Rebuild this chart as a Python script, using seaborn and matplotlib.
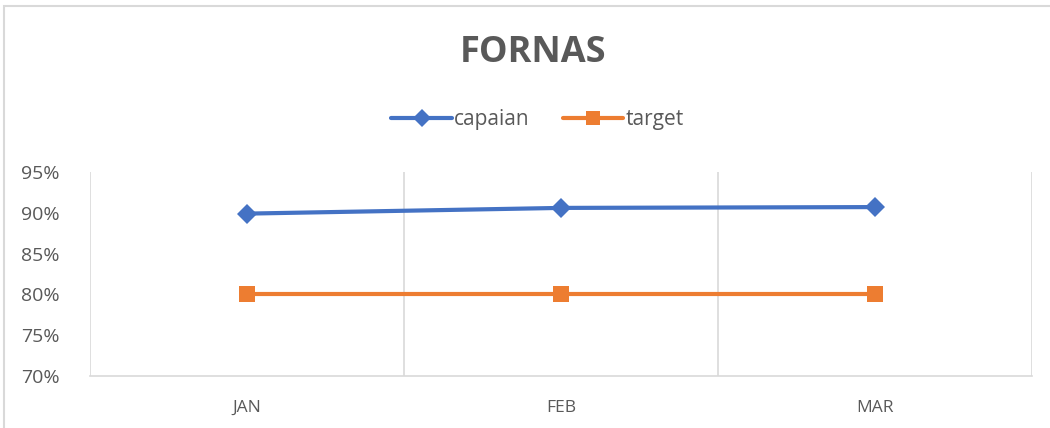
import matplotlib
matplotlib.use("Agg")
import matplotlib.pyplot as plt
from matplotlib.patches import Rectangle
from matplotlib.lines import Line2D
from matplotlib.ticker import FuncFormatter
import pandas as pd
import seaborn as sns

# data
bulan = ["JAN", "FEB", "MAR"]
capaian = [89.9, 90.6, 90.7]
target = [80, 80, 80]

df = pd.DataFrame({
    "pos": list(range(len(bulan))) * 2,
    "nilai": capaian + target,
    "seri": ["capaian"] * len(bulan) + ["target"] * len(bulan),
})

sns.set_style("white")
plt.rcParams["font.family"] = ["Open Sans", "DejaVu Sans"]

fig = plt.figure(figsize=(10.5, 4.28), dpi=100)
ax = fig.add_axes([90 / 1050, 52 / 428, 942 / 1050, 204 / 428])

warna = {"capaian": "#4472C4", "target": "#ED7D31"}
sns.lineplot(data=df, x="pos", y="nilai", hue="seri", style="seri",
             markers={"capaian": "D", "target": "s"}, dashes=False,
             palette=warna, linewidth=3, markersize=10, markeredgewidth=0,
             ax=ax, legend=False)
# kotak sedikit lebih besar
for ln in ax.get_lines():
    if ln.get_marker() == "s":
        ln.set_markersize(12)

ax.set_xlim(-0.5, len(bulan) - 0.5)
ax.set_ylim(70, 95)
ax.set_yticks([70, 75, 80, 85, 90, 95])
ax.yaxis.set_major_formatter(FuncFormatter(lambda v, p: f"{v:.0f}%"))
ax.set_xticks(range(len(bulan)))
ax.set_xticklabels(bulan)
ax.set_xticks([i - 0.5 for i in range(len(bulan) + 1)], minor=True)
ax.grid(True, which="minor", axis="x", color="#D9D9D9", linewidth=1.2)
ax.grid(False, which="major")
ax.tick_params(axis="both", which="both", length=0)
ax.tick_params(axis="y", labelsize=14, labelcolor="#595959", pad=22)
ax.tick_params(axis="x", labelsize=12.5, labelcolor="#595959", pad=17)
ax.set_xlabel("")
ax.set_ylabel("")
for s in ["top", "right", "left"]:
    ax.spines[s].set_visible(False)
ax.spines["bottom"].set_color("#D9D9D9")
ax.spines["bottom"].set_linewidth(1.2)

fig.text(0.508, 1 - 53 / 428, "FORNAS", ha="center", va="center",
         fontsize=26, fontweight="bold", color="#595959")

h = [Line2D([], [], color=warna["capaian"], lw=3, marker="D", markersize=9, markeredgewidth=0),
     Line2D([], [], color=warna["target"], lw=3, marker="s", markersize=10, markeredgewidth=0)]
fig.legend(h, ["capaian", "target"], loc="center", bbox_to_anchor=(0.512, 1 - 120 / 428),
           ncol=2, frameon=False, fontsize=15, labelcolor="#595959",
           handlelength=2.9, handletextpad=0.1, columnspacing=1.6)

fig.add_artist(Rectangle((4 / 1050, -0.1), 1.2, 1 - 6 / 428 + 0.1,
                         transform=fig.transFigure, fill=False,
                         edgecolor="#D9D9D9", linewidth=1.5))

fig.savefig("out.png", dpi=100)
